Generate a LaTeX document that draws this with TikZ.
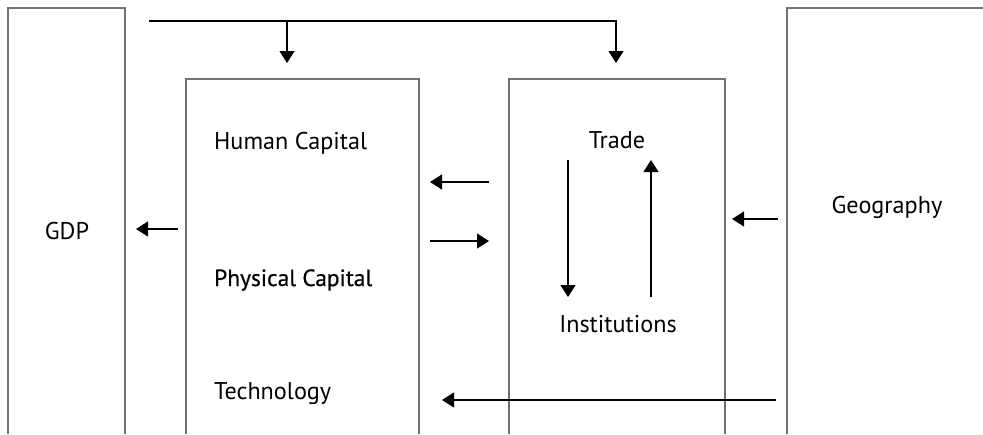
\documentclass[tikz,border=0pt]{standalone}
\usepackage{fontspec}
\setmainfont{PT Sans}
\newfontfamily\heavier[FakeBold=0.5]{PT Sans}
\usetikzlibrary{arrows.meta}
\begin{document}
\begin{tikzpicture}[x=1pt,y=-1pt,
  frameline/.style={draw=black!55, line width=1.1pt},
  region/.style={inner sep=0pt, outer sep=0pt, anchor=north west},
  arr/.style={draw=black, line width=1.1pt, -{Triangle[length=12pt,width=15pt]}},
  txt/.style={font=\fontsize{24.2}{28}\selectfont, inner sep=0pt}
]
\useasboundingbox (0,0) rectangle (983,434);

% regions (open at the bottom)
\node[region, minimum width=117pt, minimum height=426pt] (gdpbox) at (8,8) {};
\node[region, minimum width=233pt, minimum height=355pt] (capbox) at (186,79) {};
\node[region, minimum width=216pt, minimum height=355pt] (linkbox) at (509,79) {};
\node[region, minimum width=196pt, minimum height=426pt] (geobox) at (787,8) {};

\draw[frameline] (gdpbox.south west) -- (gdpbox.north west) -- (gdpbox.north east) -- (gdpbox.south east);
\draw[frameline] (capbox.south west) -- (capbox.north west) -- (capbox.north east) -- (capbox.south east);
\draw[frameline] (linkbox.south west) -- (linkbox.north west) -- (linkbox.north east) -- (linkbox.south east);
\draw[frameline] (geobox.south west) -- (geobox.north west) -- (geobox.north east);

% labels
\node[txt, anchor=base] (gdp) at (67,239) {GDP};
\node[txt, anchor=base west] (hc) at (214,149) {Human Capital};
\node[txt, anchor=base west, font=\fontsize{23.4}{28}\selectfont] (pc) at (214,286) {\heavier Physical Capital};
\node[txt, anchor=base west] (tech) at (214,399) {Technology};
\node[txt, anchor=base] (trade) at (617,148) {Trade};
\node[txt, anchor=base] (inst) at (618,332) {Institutions};
\node[txt, anchor=base] (geo) at (887,213) {Geography};

% connector end points
\coordinate (feed) at (149,21);
\coordinate (capin) at (287,63);
\coordinate (linkin) at (616,63);
\coordinate (toGdpA) at (178,229);
\coordinate (toGdpB) at (136,229);
\coordinate (backA) at (489,182);
\coordinate (backB) at (430,182);
\coordinate (fwdA) at (430,241);
\coordinate (fwdB) at (489,241);
\coordinate (geoA) at (778,219);
\coordinate (geoB) at (732,219);
\coordinate (lowA) at (776,400);
\coordinate (lowB) at (442,400);
\coordinate (downA) at (568,160);
\coordinate (downB) at (568,297);
\coordinate (upA) at (651,297);
\coordinate (upB) at (651,160);

% connectors
\draw[arr] (feed) -| (linkin);
\draw[arr] (capin |- feed) -- (capin);
\draw[arr] (toGdpA) -- (toGdpB);
\draw[arr] (backA) -- (backB);
\draw[arr] (fwdA) -- (fwdB);
\draw[arr] (geoA) -- (geoB);
\draw[arr] (lowA) -- (lowB);
\draw[arr] (downA) -- (downB);
\draw[arr] (upA) -- (upB);
\end{tikzpicture}
\end{document}
